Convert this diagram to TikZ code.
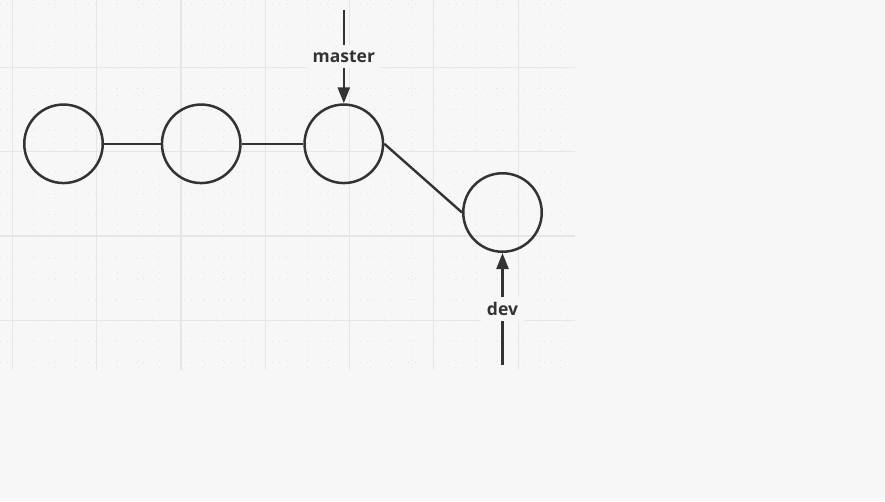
\documentclass[tikz,border=0pt]{standalone}
\usepackage{fontspec}
\setmainfont{Open Sans}
\usetikzlibrary{arrows.meta}
\definecolor{paper}{HTML}{F7F7F7}
\definecolor{ink}{HTML}{333333}
\definecolor{gridmajor}{HTML}{E6E6E6}
\definecolor{gridminor}{HTML}{E6E6E6}
\tikzset{every picture/.style = {x=1pt, y=-1pt}}
\tikzset{major/.style = {draw=gridmajor, line width=1.2pt}}
\tikzset{minor/.style = {draw=gridminor, line width=0.8pt, dash pattern=on 0.8pt off 6pt}}
\tikzset{commit/.style = {draw=ink, circle, line width=2.5pt, minimum size=78.5pt, inner sep=0}}
\tikzset{branch/.style = {draw=ink, line width=2.4pt, -{Triangle[length=16pt, width=12pt]}}}
\tikzset{branchname/.style = {fill=paper, text=ink, midway, inner sep=5.5pt,
  font=\bfseries\fontsize{17.5}{21}\selectfont}}

\begin{document}
\begin{tikzpicture}
  \fill[paper] (0, 0) rectangle (885, 501);
  \useasboundingbox (0, 0) rectangle (885, 501);
  % grid
  \foreach \k in {0,...,26} \draw[minor] (12.3+21.075*\k, 0) -- (12.3+21.075*\k, 370);
  \foreach \k in {0,...,17} \draw[minor] (0, 4.1+21.075*\k) -- (575, 4.1+21.075*\k);
  \foreach \k in {0,...,6} \draw[major] (12.3+84.3*\k, 0) -- (12.3+84.3*\k, 370);
  \foreach \k in {0,...,3} \draw[major] (0, 67.3+84.3*\k) -- (575, 67.3+84.3*\k);
  % commits
  \node[commit] (c1) at (63.5, 143.8) {};
  \node[commit] (c2) at (201.2, 143.8) {};
  \node[commit] (c3) at (343.8, 143.8) {};
  \node[commit] (c4) at (502.5, 212.5) {};
  \draw[ink, line width=2.4pt] (c1) -- (c2) -- (c3);
  \draw[ink, line width=2.4pt] (c3.east) -- (c4.west);
  % branch pointers
  \coordinate (mtop) at (343.8, 9.5);
  \coordinate (dbot) at (502.5, 365);
  \draw[branch] (mtop) -- (c3.north) node[branchname]{master};
  \draw[branch] (dbot) -- (c4.south) node[branchname]{dev};
\end{tikzpicture}
\end{document}
